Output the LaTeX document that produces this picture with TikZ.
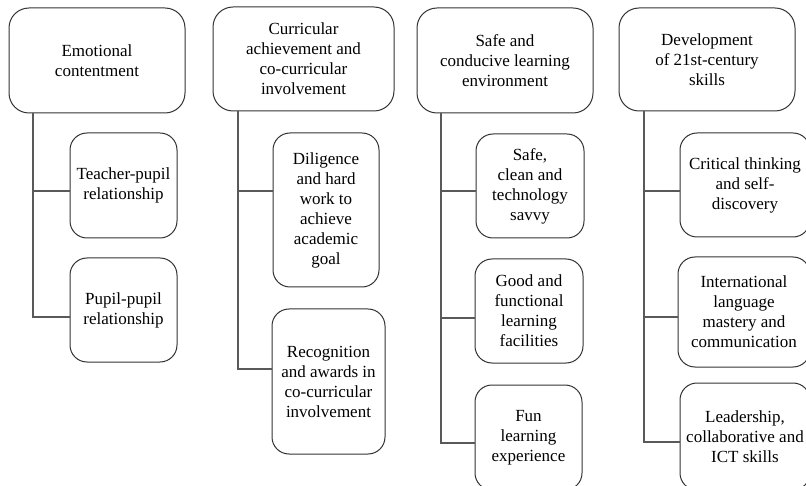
\documentclass[tikz,border=0pt]{standalone}
\usepackage{fontspec}
\setmainfont{Liberation Serif}
\begin{document}
\begin{tikzpicture}[x=1pt,y=-1pt,
  box/.style={draw=black!80, line width=1pt, rounded corners=17pt, align=center,
    font=\fontsize{17}{20}\selectfont, inner sep=0pt},
  topbox/.style={box, rounded corners=20pt},
  link/.style={draw=black!65, line width=1.3pt}]
\useasboundingbox (0,0) rectangle (806,486);
\clip (0,0) rectangle (806,486);
% #1 style, #2 name, #3-#6 corners (x1,y1,x2,y2), #7 text
\newcommand\boxnode[7]{%
  \node[#1, minimum width={(#5-#3)*1pt}, minimum height={(#6-#4)*1pt}]
    (#2) at ({(#3+#5)/2},{(#4+#6)/2}) {#7};}

% headline boxes
\boxnode{topbox}{p1}{9}{8}{185}{113}{Emotional\\contentment}
\boxnode{topbox}{p2}{213}{7}{394}{111}{Curricular\\achievement and\\co-curricular\\involvement}
\boxnode{topbox}{p3}{417}{8}{593}{113}{Safe and\\conducive learning\\environment}
\boxnode{topbox}{p4}{619}{8}{795}{111}{Development\\of 21st-century\\skills}

% sub-item boxes
\boxnode{box}{c11}{70}{133}{177}{238}{Teacher-pupil\\relationship}
\boxnode{box}{c12}{70}{258}{177}{362}{Pupil-pupil\\relationship}
\boxnode{box}{c21}{273}{133}{379}{287}{Diligence\\and hard\\work to\\achieve\\academic\\goal}
\boxnode{box}{c22}{272}{309}{385}{454}{Recognition\\and awards in\\co-curricular\\involvement}
\boxnode{box}{c31}{476}{134}{584}{238}{Safe,\\clean and\\technology\\savvy}
\boxnode{box}{c32}{475}{259}{583}{363}{Good and\\functional\\learning\\facilities}
\boxnode{box}{c33}{475}{385}{582}{490}{Fun\\learning\\experience}
\boxnode{box}{c41}{680}{133}{810}{237}{Critical thinking\\and self-\\discovery}
\boxnode{box}{c42}{678}{257}{810}{367}{International\\language\\mastery and\\communication}
\boxnode{box}{c43}{680}{383}{810}{490}{Leadership,\\collaborative and\\ICT skills}

% trunk positions and branch heights
\coordinate (v1) at (33,0);
\coordinate (v2) at (238,0);
\coordinate (v3) at (441,0);
\coordinate (v4) at (644,0);
\coordinate (h11) at (0,191);
\coordinate (h12) at (0,317);
\coordinate (h21) at (0,191);
\coordinate (h22) at (0,369);
\coordinate (h31) at (0,191);
\coordinate (h32) at (0,318);
\coordinate (h33) at (0,443);
\coordinate (h41) at (0,191);
\coordinate (h42) at (0,317);
\coordinate (h43) at (0,442);

% connectors
\draw[link] (v1 |- p1.south) |- (c11.west |- h11);
\draw[link] (v1 |- p1.south) |- (c12.west |- h12);
\draw[link] (v2 |- p2.south) |- (c21.west |- h21);
\draw[link] (v2 |- p2.south) |- (c22.west |- h22);
\draw[link] (v3 |- p3.south) |- (c31.west |- h31);
\draw[link] (v3 |- p3.south) |- (c32.west |- h32);
\draw[link] (v3 |- p3.south) |- (c33.west |- h33);
\draw[link] (v4 |- p4.south) |- (c41.west |- h41);
\draw[link] (v4 |- p4.south) |- (c42.west |- h42);
\draw[link] (v4 |- p4.south) |- (c43.west |- h43);
\end{tikzpicture}
\end{document}
